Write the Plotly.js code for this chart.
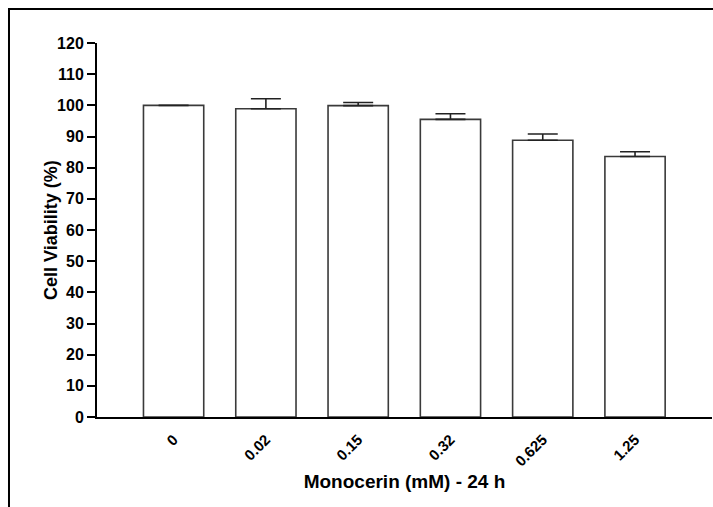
<!DOCTYPE html>
<html>
<head>
<meta charset="utf-8">
<script src="https://cdn.plot.ly/plotly-3.0.1.min.js"></script>
<style>html,body{margin:0;padding:0;background:#fff;}#chart{width:713px;height:507px;}</style>
</head>
<body>
<div id="chart"></div>
<script>
const categories = ["0", "0.02", "0.15", "0.32", "0.625", "1.25"];
const viability = [100, 98.9, 99.9, 95.5, 88.8, 83.6];
const sem = [null, 3.2, 1.0, 1.8, 2.0, 1.5];
const yTicks = [0, 10, 20, 30, 40, 50, 60, 70, 80, 90, 100, 110, 120];

const trace = {
  type: 'bar',
  x: categories,
  y: viability,
  width: 0.653,
  marker: {color: '#ffffff', line: {color: '#3a3a3a', width: 1.6}},
  error_y: {type: 'data', array: sem, symmetric: false, arrayminus: sem.map(()=>0), visible: true, color: '#222', thickness: 1.6, width: 15}
};

const font = "Liberation Sans, Arial, sans-serif";
const layout = {
  width: 713, height: 507,
  margin: {l: 97, r: 1, t: 43, b: 90},
  paper_bgcolor: '#fff', plot_bgcolor: '#fff',
  showlegend: false,
  font: {family: font, color: '#000', size: 16},
  xaxis: {
    type: 'category', range: [-0.83, 5.834],
    tickvals: categories, ticktext: categories.map(c => '<b>' + c + '</b>'),
    showline: true, linecolor: '#000', linewidth: 2,
    ticks: '', tickangle: -45, ticklabelstandoff: 6,
    tickfont: {family: font, size: 15, color: '#000'},
    showgrid: false, zeroline: false,
    title: {text: '<b>Monocerin (mM) - 24 h</b>', font: {family: font, size: 19, color: '#000'}, standoff: 6}
  },
  yaxis: {
    range: [0, 120], tickvals: yTicks, ticktext: yTicks.map(v => '<b>' + v + '</b>'),
    showline: true, linecolor: '#000', linewidth: 2,
    ticks: 'outside', ticklen: 8, tickwidth: 2, tickcolor: '#000',
    tickfont: {family: font, size: 16, color: '#000'},
    showgrid: false, zeroline: false
  },
  annotations: [{
    text: '<b>Cell Viability (%)</b>', xref: 'paper', yref: 'paper',
    x: -0.0748, y: 0.5, xanchor: 'center', yanchor: 'middle', textangle: -90,
    showarrow: false, font: {family: font, size: 18, color: '#000'}
  }],
  shapes: [{
    type: 'rect', xref: 'paper', yref: 'paper',
    x0: -0.1431, x1: 2, y0: -2, y1: 1.0909,
    line: {color: '#000', width: 2}, fillcolor: 'rgba(0,0,0,0)', layer: 'above'
  }]
};

Plotly.newPlot('chart', [trace], layout, {displayModeBar: false, staticPlot: true});
</script>
</body>
</html>
